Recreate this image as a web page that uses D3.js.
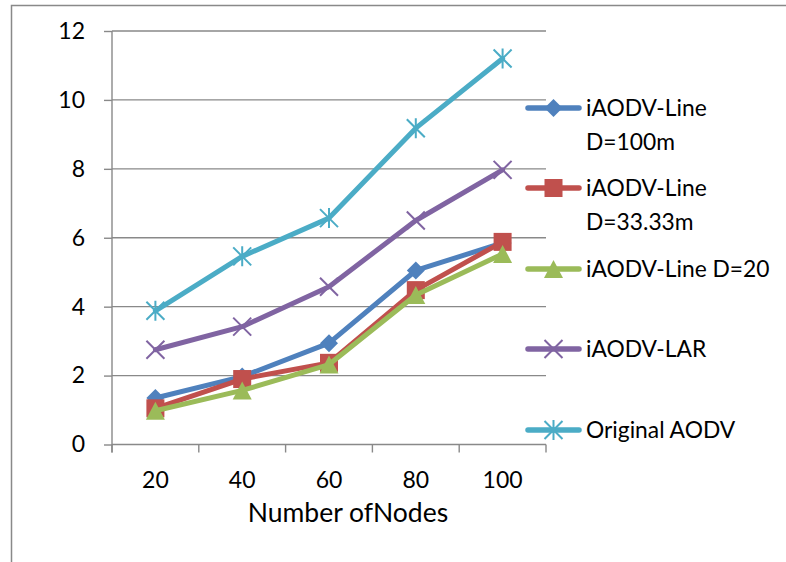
<!DOCTYPE html>
<html>
<head>
<meta charset="utf-8">
<script src="https://cdn.jsdelivr.net/npm/d3@7"></script>
<style>
  html, body { margin: 0; padding: 0; background: #fff; }
  svg { display: block; font-family: Lato, "Open Sans", sans-serif; }
</style>
</head>
<body>
<svg id="chart" width="786" height="562"></svg>
<script>
// ---- data ----
const categories = ["20", "40", "60", "80", "100"];
const seriesNames = ["iAODV-Line D=100m", "iAODV-Line D=33.33m", "iAODV-Line D=20", "iAODV-LAR", "Original AODV"];
const legendLines = [["iAODV-Line", "D=100m"], ["iAODV-Line", "D=33.33m"], ["iAODV-Line D=20"], ["iAODV-LAR"], ["Original AODV"]];
const lineD100 = [1.35, 1.97, 2.94, 5.05, 5.85];
const lineD33 = [1.05, 1.90, 2.37, 4.48, 5.88];
const lineD20 = [0.98, 1.57, 2.32, 4.34, 5.53];
const lar = [2.75, 3.42, 4.58, 6.50, 7.97];
const original = [3.88, 5.46, 6.57, 9.18, 11.20];
const yTicks = [0, 2, 4, 6, 8, 10, 12];
const xTitle = "Number ofNodes";

const seriesValues = [lineD100, lineD33, lineD20, lar, original];
const colors = ["#4F81BD", "#C0504D", "#9BBB59", "#8064A2", "#4BACC6"];
const markers = ["diamond", "square", "triangle", "x", "star"];

// ---- layout ----
const svg = d3.select("#chart");
const pLeft = 112, pRight = 546, pTop = 31, pBottom = 444.5;
const x = d3.scaleBand().domain(categories).range([pLeft, pRight]).padding(0);
const y = d3.scaleLinear().domain([0, 12]).range([pBottom, pTop]);
const grid = "#898989";

// outer frame (only left & top edges visible)
svg.append("rect").attr("x", 11.5).attr("y", 5.5).attr("width", 900).attr("height", 700)
  .attr("fill", "none").attr("stroke", grid).attr("stroke-width", 1.5);

// gridlines
svg.append("g").selectAll("line").data(yTicks).join("line")
  .attr("x1", pLeft).attr("x2", pRight)
  .attr("y1", d => y(d)).attr("y2", d => y(d))
  .attr("stroke", grid).attr("stroke-width", 1.4);

// y axis
const yAxis = svg.append("g").attr("transform", `translate(${pLeft},0)`)
  .call(d3.axisLeft(y).tickValues(yTicks).tickFormat(d3.format("d")).tickSizeInner(8).tickSizeOuter(0).tickPadding(19));
yAxis.select(".domain").remove();
yAxis.selectAll(".tick line").attr("stroke", grid).attr("stroke-width", 1.4);
yAxis.selectAll(".tick text").attr("font-size", 23).attr("fill", "#000").attr("font-family", "Lato");
svg.append("line").attr("x1", pLeft).attr("x2", pLeft).attr("y1", y(12)).attr("y2", pBottom + 8)
  .attr("stroke", grid).attr("stroke-width", 1.4);

// x axis
const xAxis = svg.append("g").attr("transform", `translate(0,${pBottom})`)
  .call(d3.axisBottom(x).tickSize(0).tickPadding(27));
xAxis.select(".domain").remove();
xAxis.selectAll(".tick text").attr("font-size", 23).attr("fill", "#000").attr("font-family", "Lato");
const edges = categories.map(c => x(c)).concat([x.range()[1]]);
svg.append("g").selectAll("line").data(edges).join("line")
  .attr("x1", d => d).attr("x2", d => d).attr("y1", pBottom).attr("y2", pBottom + 8)
  .attr("stroke", grid).attr("stroke-width", 1.4);

svg.append("text").attr("x", 348).attr("y", 521.5)
  .attr("text-anchor", "middle").attr("font-size", 26.5).attr("fill", "#000").text(xTitle);

// markers
function drawMarker(g, type, cx, cy, color) {
  if (type === "diamond") {
    const r = 9;
    g.append("path").attr("d", `M${cx},${cy - r}L${cx + r},${cy}L${cx},${cy + r}L${cx - r},${cy}Z`).attr("fill", color);
  } else if (type === "square") {
    const s = 18;
    g.append("rect").attr("x", cx - s / 2).attr("y", cy - s / 2).attr("width", s).attr("height", s).attr("fill", color);
  } else if (type === "triangle") {
    const w = 19, h = 18;
    g.append("path").attr("d", `M${cx},${cy - h / 2}L${cx + w / 2},${cy + h / 2}L${cx - w / 2},${cy + h / 2}Z`).attr("fill", color);
  } else if (type === "x") {
    const r = 9;
    g.append("path").attr("d", `M${cx - r},${cy - r}L${cx + r},${cy + r}M${cx - r},${cy + r}L${cx + r},${cy - r}`)
      .attr("stroke", color).attr("stroke-width", 2).attr("fill", "none");
  } else if (type === "star") {
    const r = 9;
    g.append("path").attr("d", `M${cx - r},${cy - r}L${cx + r},${cy + r}M${cx - r},${cy + r}L${cx + r},${cy - r}M${cx},${cy - r - 1}L${cx},${cy + r + 1}`)
      .attr("stroke", color).attr("stroke-width", 2).attr("fill", "none");
  }
}

const line = d3.line().x((d, i) => x(categories[i]) + x.bandwidth() / 2).y(d => y(d));

seriesValues.forEach((vals, si) => {
  const g = svg.append("g");
  g.append("path").datum(vals).attr("d", line).attr("fill", "none")
    .attr("stroke", colors[si]).attr("stroke-width", 5).attr("stroke-linejoin", "round").attr("stroke-linecap", "round");
  vals.forEach((v, i) => drawMarker(g, markers[si], x(categories[i]) + x.bandwidth() / 2, y(v), colors[si]));
});

// legend
const legendY = [108, 188, 269, 349, 430];
const lg = svg.append("g");
seriesNames.forEach((name, si) => {
  const ly = legendY[si];
  lg.append("line").attr("x1", 528).attr("x2", 579).attr("y1", ly).attr("y2", ly)
    .attr("stroke", colors[si]).attr("stroke-width", 5.5).attr("stroke-linecap", "round");
  drawMarker(lg, markers[si], 553.5, ly, colors[si]);
  const t = lg.append("text").attr("x", 586).attr("y", ly).attr("font-size", 22.8).attr("fill", "#000");
  legendLines[si].forEach((ln, k) => {
    t.append("tspan").attr("x", 586).attr("dy", k === 0 ? "0.36em" : "1.47em").text(ln);
  });
});
</script>
</body>
</html>
